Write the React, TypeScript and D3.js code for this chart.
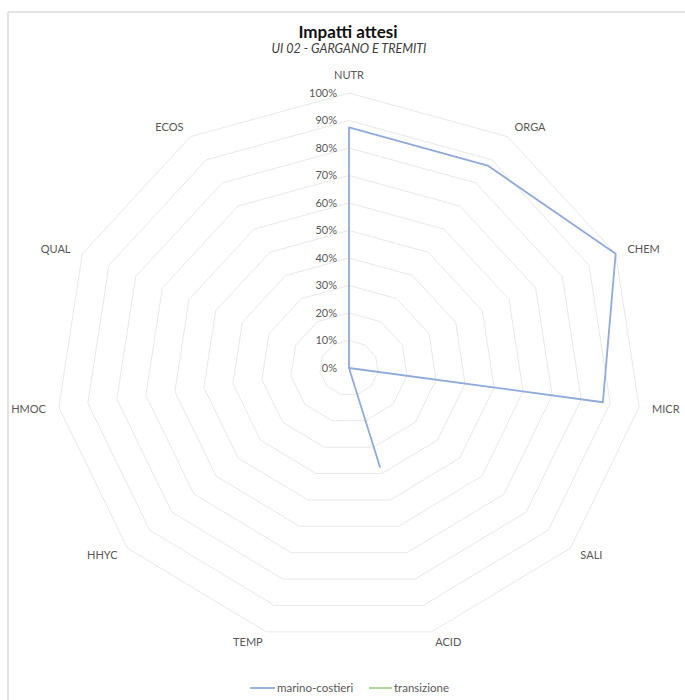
import * as d3 from "d3";

const categories = ["NUTR", "ORGA", "CHEM", "MICR", "SALI", "ACID", "TEMP", "HHYC", "HMOC", "QUAL", "ECOS"];
const marinoCostieri = [0.875, 0.875, 1.0, 0.875, 0, 0.375, 0, 0, 0, 0, 0];
const transizione = [0, 0, 0, 0, 0, 0, 0, 0, 0, 0, 0];
const ringTicks = [0, 0.1, 0.2, 0.3, 0.4, 0.5, 0.6, 0.7, 0.8, 0.9, 1.0];

const width = 685;
const height = 700;
const cx = 349;
const cy = 368;
const stretchX = 1.066;
const font = "Lato, 'Open Sans', sans-serif";

export default function App() {
    const r = d3.scaleLinear().domain([0, 1]).range([0, 275]);
    const angle = d3
        .scaleLinear()
        .domain([0, categories.length])
        .range([0, 2 * Math.PI]);

    const px = (i: number, v: number) => cx + r(v) * Math.sin(angle(i)) * stretchX;
    const py = (i: number, v: number) => cy - r(v) * Math.cos(angle(i));

    const line = d3
        .line<number>()
        .x((d, i) => px(i, d))
        .y((d, i) => py(i, d))
        .curve(d3.curveLinearClosed);

    const ringLine = (t: number) => line(categories.map(() => t)) || "";

    return (
        <svg width={width} height={height} style={{ position: "absolute", left: 0, top: 0 }} fontFamily={font}>
            <rect x={0} y={0} width={width} height={height} fill="white" />
            <line x1={8} y1={12} x2={width} y2={12} stroke="#e3e3e3" strokeWidth={2} />
            <line x1={8} y1={12} x2={8} y2={height} stroke="#e3e3e3" strokeWidth={2} />

            <text x={348} y={38} textAnchor="middle" fontSize={17} fontWeight="bold" fill="#111">Impatti attesi</text>
            <text x={349} y={53} textAnchor="middle" fontSize={12.5} fontStyle="italic" fill="#404040">UI 02 - GARGANO E TREMITI</text>

            <g fill="none" stroke="#e8e8e8" strokeWidth={1}>
                {ringTicks.slice(1).map((t) => (
                    <path key={t} d={ringLine(t)} />
                ))}
            </g>

            <g fontSize={11} fill="#595959">
                {categories.map((c, i) => {
                    const s = Math.sin(angle(i));
                    const co = Math.cos(angle(i));
                    const anchor = Math.abs(s) < 0.1 ? "middle" : s > 0 ? "start" : "end";
                    const x = px(i, 1) + 13 * s;
                    const y = py(i, 1) - 11 * co - (anchor === "middle" ? 7 : 0);
                    return (
                        <text key={c} x={x} y={y} dy="0.35em" textAnchor={anchor}>{c}</text>
                    );
                })}
            </g>

            <g fontSize={11} fill="#595959" textAnchor="end">
                {ringTicks.map((t) => (
                    <text key={t} x={cx - 12} y={cy - r(t)} dy="0.35em">{d3.format(".0%")(t)}</text>
                ))}
            </g>

            <path d={line(transizione) || ""} fill="none" stroke="#a9d18e" strokeWidth={1.5} />
            <path d={line(marinoCostieri) || ""} fill="none" stroke="#8faadc" strokeWidth={1.8} strokeLinejoin="round" />

            <g fontSize={11.5} fill="#595959">
                <line x1={250} y1={688} x2={275} y2={688} stroke="#8faadc" strokeWidth={1.8} />
                <text x={277} y={688} dy="0.35em">marino-costieri</text>
                <line x1={369} y1={688} x2={392} y2={688} stroke="#a9d18e" strokeWidth={1.8} />
                <text x={394} y={688} dy="0.35em">transizione</text>
            </g>
        </svg>
    );
}
